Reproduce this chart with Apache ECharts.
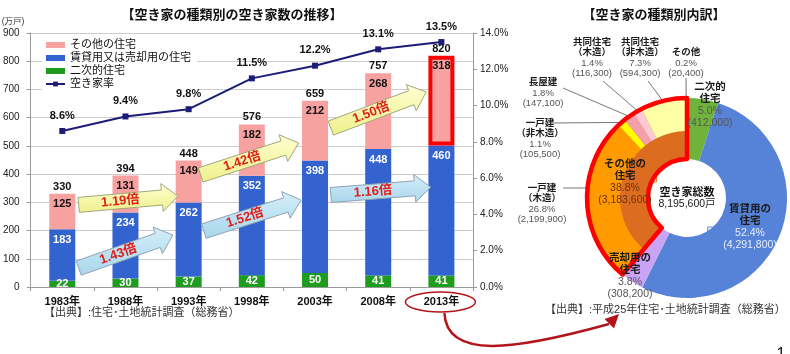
<!DOCTYPE html>
<html>
<head>
<meta charset="utf-8">
<script src="https://cdn.jsdelivr.net/npm/echarts@6/dist/echarts.min.js"></script>
<style>
  html, body { margin: 0; padding: 0; background: #fff; }
  #chart { width: 790px; height: 354px; }
</style>
</head>
<body>
<div id="chart"></div>
<script>
  const FONT = '"Liberation Sans", "Noto Sans CJK JP", sans-serif'

  // 左：空き家数の推移（万戸）
  const years = ['1983年', '1988年', '1993年', '1998年', '2003年', '2008年', '2013年']
  const secondHomes = [22, 30, 37, 42, 50, 41, 41]
  const rentalSale = [183, 234, 262, 352, 398, 448, 460]
  const otherHomes = [125, 131, 149, 182, 212, 268, 318]
  const totals = [330, 394, 448, 576, 659, 757, 820]
  const vacancyRate = [8.6, 9.4, 9.8, 11.5, 12.2, 13.1, 13.5]
  const otherRatio = ['1.19倍', '1.42倍', '1.50倍']
  const rentalRatio = ['1.43倍', '1.52倍', '1.16倍']

  // 右：空き家の種類別内訳（戸）
  const pieNames = ['二次的\n住宅', '賃貸用の\n住宅', '売却用の\n住宅', 'その他の\n住宅']
  const pieCounts = [412000, 4291800, 308200, 3183600]
  const piePcts = [5.0, 52.4, 3.8, 38.8]
  const subNames = ['一戸建\n（木造）', '一戸建\n（非木造）', '長屋建', '共同住宅\n（木造）', '共同住宅\n（非木造）', 'その他']
  const subCounts = [2199900, 105500, 147100, 116300, 594300, 20400]
  const subPcts = [26.8, 1.1, 1.8, 1.4, 7.3, 0.2]
  const totalVacant = 8195600

  // placement of the ratio arrows: [tail category, tail value, tip category, tip value]
  const otherArrowPos = [[0.26, 291, 1.83, 322], [2.19, 397, 3.74, 510], [4.25, 563, 5.76, 691]]
  const rentalArrowPos = [[0.26, 67, 1.75, 184], [2.24, 198, 3.78, 308], [4.25, 326, 5.83, 354]]

  const PIE_CENTER = [687, 198]
  const R_HOLE = 39
  const R_MID = 67
  const R_OUT = 100

  const mainLabelPos = [
    { x: 710, y: 105, key: 'p' },
    { x: 750, y: 227, key: 'pw' },
    { x: 630, y: 276, key: 'p' },
    { x: 625, y: 182, key: 'pb' }
  ]
  const subLabelPos = [
    { x: 542, y: 204, lx: 563, ly: 188, flat: true },
    { x: 540, y: 139, lx: 553, ly: 123 },
    { x: 543, y: 93, lx: 563, ly: 88 },
    { x: 592, y: 58, lx: 603, ly: 81 },
    { x: 640, y: 58, lx: 648, ly: 81 },
    { x: 686, y: 63, lx: 686, ly: 78 }
  ]

  const chart = echarts.init(document.getElementById('chart'))

  const fmtCount = v => v.toLocaleString('en-US')

  function pieText(name, pct, count, key, nKey) {
    if (name === undefined) return ''
    const lines = name.split('\n').map(l => '{' + nKey + '|' + l + '}').join('\n')
    return lines + '\n{' + key + '|' + pct.toFixed(1) + '%}\n{' + key + '|(' + fmtCount(count) + ')}'
  }

  const blank = pieCounts[0] + pieCounts[1] + pieCounts[2]
  const subTotal = blank + subCounts.reduce((a, b) => a + b, 0)

  function subAnchor(i, p) {
    if (p.flat) {
      const dy = p.ly - PIE_CENTER[1]
      return [PIE_CENTER[0] - Math.sqrt(R_OUT * R_OUT - dy * dy), p.ly]
    }
    let start = blank
    for (let k = 0; k < i; k++) start += subCounts[k]
    const a = (start + subCounts[i] / 2) / subTotal * Math.PI * 2
    return [PIE_CENTER[0] + R_OUT * Math.sin(a), PIE_CENTER[1] - R_OUT * Math.cos(a)]
  }

  const mainColors = ['#6fb23c', '#5682d8', '#c9a3f4', '#dc6c1f']
  const subColors = ['#ff9a00', '#ffff00', '#f4a0aa', '#ffc9d3', '#ffffa6', '#ffe2a8']

  const richMain = {
    n: { fontSize: 10.5, fontWeight: 'bold', color: '#1a1a1a', lineHeight: 12, fontFamily: FONT },
    p: { fontSize: 10.5, color: '#555', lineHeight: 12, fontFamily: FONT },
    pw: { fontSize: 10.5, color: '#e8eefb', lineHeight: 12, fontFamily: FONT },
    pb: { fontSize: 10.5, color: '#6a3412', lineHeight: 12, fontFamily: FONT }
  }
  const richSub = {
    s: { fontSize: 9.5, fontWeight: 'bold', color: '#1a1a1a', lineHeight: 10.5, fontFamily: FONT },
    q: { fontSize: 9.5, color: '#555', lineHeight: 10.5, fontFamily: FONT }
  }

  chart.setOption({
    animation: false,
    textStyle: { fontFamily: FONT },
    grid: { left: 30, right: 317, top: 33, bottom: 67 },
    legend: {
      data: [
        { name: 'その他の住宅', icon: 'rect' },
        { name: '賃貸用又は売却用の住宅', icon: 'rect' },
        { name: '二次的住宅', icon: 'rect' },
        { name: '空き家率' }
      ],
      orient: 'vertical',
      left: 42,
      top: 37,
      itemWidth: 19,
      itemHeight: 6,
      itemGap: 1,
      padding: [2, 6, 2, 3],
      backgroundColor: '#fff',
      selectedMode: false,
      textStyle: { fontSize: 11, color: '#111', fontFamily: FONT, lineHeight: 12 }
    },
    xAxis: {
      type: 'category',
      data: years,
      axisLine: { lineStyle: { color: '#9a9a9a' } },
      axisTick: { show: true, length: 4, lineStyle: { color: '#9a9a9a' } },
      axisLabel: { color: '#111', fontSize: 11, fontWeight: 'bold', margin: 9 }
    },
    yAxis: [
      {
        type: 'value',
        min: 0,
        max: 900,
        interval: 100,
        axisLine: { show: true, lineStyle: { color: '#9a9a9a' } },
        axisTick: { show: true, length: 4, lineStyle: { color: '#9a9a9a' } },
        splitLine: { lineStyle: { color: '#cdcdcd' } },
        axisLabel: { color: '#222', fontSize: 10, margin: 11 }
      },
      {
        type: 'value',
        position: 'right',
        min: 0,
        max: 14,
        interval: 2,
        axisLine: { show: true, lineStyle: { color: '#9a9a9a' } },
        axisTick: { show: true, length: 4, lineStyle: { color: '#9a9a9a' } },
        splitLine: { show: false },
        axisLabel: { color: '#222', fontSize: 10, margin: 7, formatter: v => v.toFixed(1) + '%' }
      }
    ],
    series: [
      {
        name: '二次的住宅',
        type: 'bar',
        stack: 'homes',
        barWidth: 26,
        data: secondHomes,
        itemStyle: { color: '#1e9c1e' },
        label: { show: true, position: 'inside', color: '#fff', fontWeight: 'bold', fontSize: 11 }
      },
      {
        name: '賃貸用又は売却用の住宅',
        type: 'bar',
        stack: 'homes',
        barWidth: 26,
        data: rentalSale,
        itemStyle: { color: '#3263cf' },
        label: { show: true, position: 'insideTop', distance: 5, color: '#fff', fontWeight: 'bold', fontSize: 11 }
      },
      {
        name: 'その他の住宅',
        type: 'bar',
        stack: 'homes',
        barWidth: 26,
        data: otherHomes.map((v, i) => i === years.length - 1
          ? { value: v, itemStyle: { borderColor: '#ff0000', borderWidth: 4 } }
          : v),
        itemStyle: { color: '#f7a1a1' },
        label: { show: true, position: 'insideTop', distance: 5, color: '#111', fontWeight: 'bold', fontSize: 11 }
      },
      {
        name: '合計',
        type: 'scatter',
        data: totals,
        symbolSize: 1,
        silent: true,
        itemStyle: { color: 'rgba(0,0,0,0)', opacity: 1 },
        label: { show: true, position: 'top', distance: 1, color: '#111', fontWeight: 'bold', fontSize: 11 }
      },
      {
        name: '空き家率',
        type: 'line',
        yAxisIndex: 1,
        data: vacancyRate,
        symbol: 'rect',
        symbolSize: 6,
        color: '#1c1c78',
        lineStyle: { width: 2, color: '#1c1c78' },
        label: {
          show: true,
          position: 'top',
          distance: 7,
          color: '#111',
          fontWeight: 'bold',
          fontSize: 11,
          formatter: p => p.value.toFixed(1) + '%'
        },
        z: 5
      },
      {
        name: '種類別',
        type: 'pie',
        center: PIE_CENTER,
        radius: [R_HOLE, R_OUT],
        startAngle: 90,
        avoidLabelOverlap: false,
        silent: true,
        data: pieNames.map((n, i) => ({ name: n, value: pieCounts[i], itemStyle: { color: mainColors[i] } })),
        label: {
          show: true,
          position: 'inside',
          formatter: p => pieText(pieNames[p.dataIndex], piePcts[p.dataIndex], pieCounts[p.dataIndex], mainLabelPos[p.dataIndex].key, 'n'),
          rich: richMain
        },
        labelLayout: p => ({
          x: mainLabelPos[p.dataIndex].x,
          y: mainLabelPos[p.dataIndex].y,
          align: 'center',
          verticalAlign: 'middle'
        })
      },
      {
        name: 'その他内訳',
        type: 'pie',
        center: PIE_CENTER,
        radius: [R_MID, R_OUT],
        startAngle: 90,
        avoidLabelOverlap: false,
        silent: true,
        data: [{ name: '', value: blank, itemStyle: { color: 'rgba(0,0,0,0)' }, label: { show: false }, labelLine: { show: false } }]
          .concat(subNames.map((n, i) => ({ name: n, value: subCounts[i], itemStyle: { color: subColors[i] } }))),
        label: {
          show: true,
          position: 'outside',
          formatter: p => p.dataIndex === 0 ? '' : pieText(subNames[p.dataIndex - 1], subPcts[p.dataIndex - 1], subCounts[p.dataIndex - 1], 'q', 's'),
          rich: richSub
        },
        labelLine: { show: true, length: 5, length2: 5, lineStyle: { color: '#555', width: 0.8 } },
        labelLayout: p => {
          const i = p.dataIndex - 1
          if (i < 0) return {}
          const pos = subLabelPos[i]
          return {
            x: pos.x,
            y: pos.y,
            align: 'center',
            verticalAlign: 'middle',
            labelLinePoints: [[pos.lx, pos.ly], [pos.lx, pos.ly], subAnchor(i, pos)]
          }
        }
      },
      {
        name: '枠',
        type: 'pie',
        center: PIE_CENTER,
        radius: [R_HOLE, R_OUT],
        startAngle: 90,
        silent: true,
        label: { show: false },
        labelLine: { show: false },
        data: pieCounts.map((v, i) => ({
          value: v,
          itemStyle: i === 3
            ? { color: 'rgba(0,0,0,0)', borderColor: '#ff0000', borderWidth: 4.5 }
            : { color: 'rgba(0,0,0,0)', borderWidth: 0 }
        }))
      }
    ]
  })

  function arrow(t, p, fill, stroke, text) {
    const dx = p[0] - t[0]
    const dy = p[1] - t[1]
    const len = Math.hypot(dx, dy)
    const ux = dx / len
    const uy = dy / len
    const nx = -uy
    const ny = ux
    const w = 7.5
    const h = 14
    const L = 16
    const bx = p[0] - ux * L
    const by = p[1] - uy * L
    const pts = [
      [t[0] + nx * w, t[1] + ny * w], [bx + nx * w, by + ny * w], [bx + nx * h, by + ny * h],
      p,
      [bx - nx * h, by - ny * h], [bx - nx * w, by - ny * w], [t[0] - nx * w, t[1] - ny * w]
    ]
    return [
      { type: 'polygon', shape: { points: pts }, style: { fill: fill, stroke: stroke, lineWidth: 1 }, z: 100, silent: true },
      {
        type: 'text',
        x: (t[0] + bx) / 2,
        y: (t[1] + by) / 2,
        rotation: Math.atan2(-dy, dx),
        style: { text: text, fill: '#e0201c', fontSize: 13, fontWeight: 'bold', fontFamily: FONT, align: 'center', verticalAlign: 'middle' },
        z: 101,
        silent: true
      }
    ]
  }

  function txt(x, y, text, size, weight, align, color) {
    return {
      type: 'text', x: x, y: y, silent: true, z: 100,
      style: { text: text, fontSize: size, fontWeight: weight || 'normal', fontFamily: FONT, fill: color || '#111', align: align || 'left', verticalAlign: 'middle' }
    }
  }

  function buildGraphics() {
    const x0 = chart.convertToPixel({ xAxisIndex: 0 }, 0)
    const band = chart.convertToPixel({ xAxisIndex: 0 }, 1) - x0
    const toPx = (c, v) => [x0 + c * band, chart.convertToPixel({ yAxisIndex: 0 }, v)]

    const yellow = new echarts.graphic.LinearGradient(0, 0, 0, 1, [
      { offset: 0, color: '#ffffd2' },
      { offset: 1, color: '#eef08a' }
    ])
    const blue = new echarts.graphic.LinearGradient(0, 0, 0, 1, [
      { offset: 0, color: '#d3eef9' },
      { offset: 1, color: '#a9d6ec' }
    ])

    let g = []
    otherArrowPos.forEach((a, i) => {
      g = g.concat(arrow(toPx(a[0], a[1]), toPx(a[2], a[3]), yellow, '#9fa77c', otherRatio[i]))
    })
    rentalArrowPos.forEach((a, i) => {
      g = g.concat(arrow(toPx(a[0], a[1]), toPx(a[2], a[3]), blue, '#8fa3b3', rentalRatio[i]))
    })

    const lastX = x0 + (years.length - 1) * band
    g.push({
      type: 'ellipse', silent: true, z: 100,
      shape: { cx: lastX - 1, cy: 302, rx: 35, ry: 10 },
      style: { fill: 'none', stroke: '#b3141c', lineWidth: 1.5 }
    })
    g.push({
      type: 'bezierCurve', silent: true, z: 100,
      shape: { x1: lastX + 3, y1: 313, cpx1: lastX + 5, cpy1: 360, cpx2: 515, cpy2: 350, x2: 609, y2: 324 },
      style: { fill: 'none', stroke: '#b3141c', lineWidth: 2.5 }
    })
    g.push({
      type: 'polygon', silent: true, z: 100,
      shape: { points: [[619, 314], [614, 328.5], [604.5, 319]] },
      style: { fill: '#b3141c' }
    })

    g.push(txt(232, 15, '【空き家の種類別の空き家数の推移】', 13, 'bold', 'center'))
    g.push(txt(654, 15, '【空き家の種類別内訳】', 13, 'bold', 'center'))
    g.push(txt(13, 22, '(万戸)', 8.5, 'normal', 'center', '#333'))
    g.push(txt(44, 313, '【出典】:住宅･土地統計調査（総務省）', 11, 'normal', 'left', '#333'))
    g.push(txt(545, 310, '【出典】:平成25年住宅･土地統計調査（総務省）', 11, 'normal', 'left', '#333'))
    g.push(txt(PIE_CENTER[0], PIE_CENTER[1] - 5, '空き家総数', 11, 'bold', 'center', '#111'))
    g.push(txt(PIE_CENTER[0], PIE_CENTER[1] + 6, fmtCount(totalVacant) + '戸', 10.5, 'normal', 'center', '#222'))
    g.push(txt(781, 355, '1', 16, 'normal', 'center', '#111'))

    chart.setOption({ graphic: g })
  }

  buildGraphics()
</script>
</body>
</html>
